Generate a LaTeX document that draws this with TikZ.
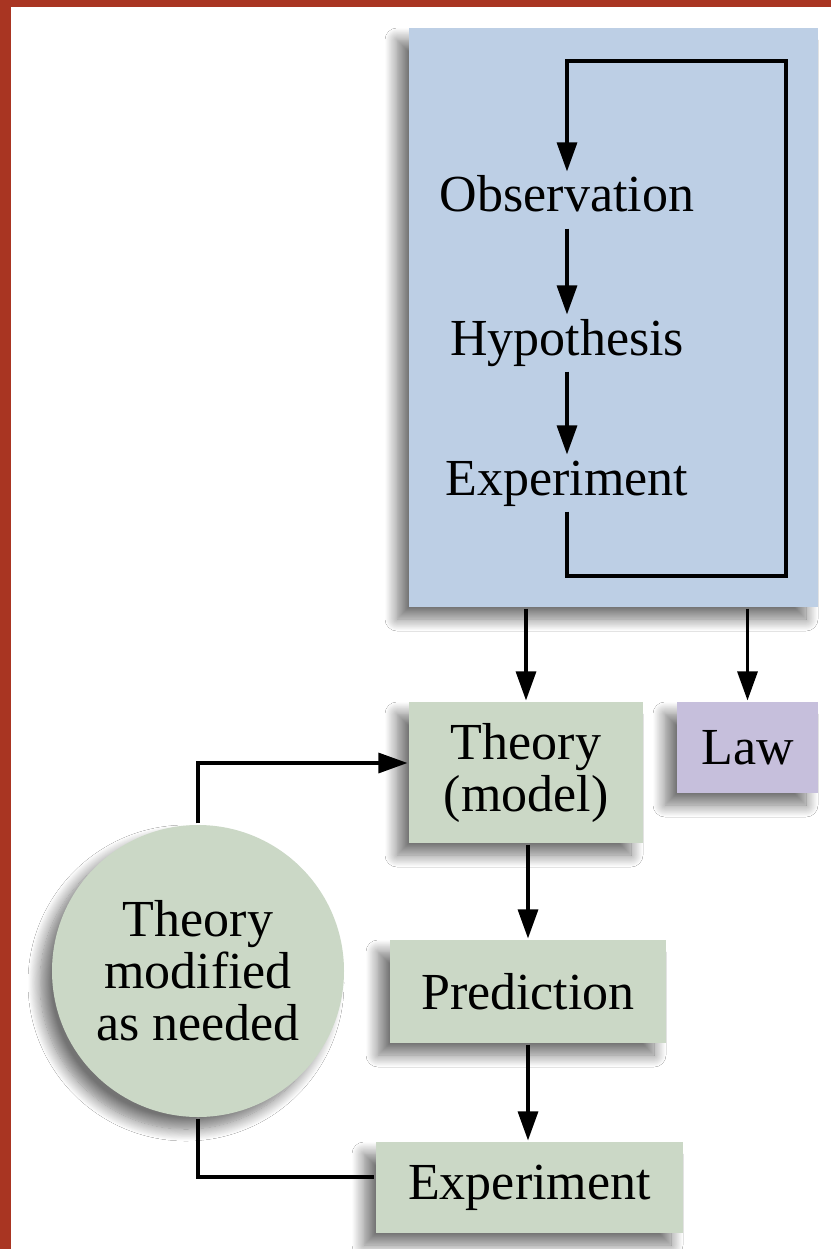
\documentclass[tikz,border=0pt]{standalone}
\usepackage{fontspec}
\setmainfont{Liberation Serif}
\usetikzlibrary{positioning,arrows.meta,shadows.blur}
\definecolor{framered}{HTML}{A93522}
\definecolor{panelblue}{HTML}{BDCFE5}
\definecolor{sagegreen}{HTML}{CBD8C6}
\definecolor{lawlilac}{HTML}{C6BFDC}

\begin{document}
\begin{tikzpicture}[x=1pt, y=-1pt, font=\fontsize{52}{52}\selectfont,
  >={Triangle[length=29pt,width=20pt]}, line width=3.1pt,
  softshadow/.style={blur shadow={shadow xshift=-12pt, shadow yshift=-12pt,
               shadow blur radius=12pt, shadow blur steps=14, shadow opacity=55}},
  gbox/.style={fill=sagegreen, softshadow, align=center, inner sep=0pt},
  step text/.style={anchor=base, inner sep=4pt, text height=35pt, text depth=11pt}]
  \useasboundingbox (0,0) rectangle (831,1249);
  \fill[framered] (0,0) rectangle (831,1249);
  \fill[white] (11,7) rectangle (831,1249);

  \node[fill=panelblue, softshadow, inner sep=0pt,
        minimum width=409pt, minimum height=579pt] (method) at (613.5,317.5) {};
  \node[step text] (obs) at (567,212) {Observation};
  \node[step text] (hyp) at (567,355) {Hypothesis};
  \node[step text] (expa) at (567,495) {Experiment};
  \coordinate (loopbr) at (786,576);
  \coordinate (looptr) at (786,61);

  \node[gbox, minimum width=234pt, minimum height=141pt] (theory) at (526,772.5)
        {Theory\\(model)};
  \node[fill=lawlilac, softshadow, inner sep=0pt,
        minimum width=141pt, minimum height=91pt] (law) at (747.5,747.5) {Law};
  \node[gbox, minimum width=276pt, minimum height=103pt] (predict) at (528,991.5)
        {Prediction};
  \node[gbox, minimum width=307pt, minimum height=91pt] (expb) at (529.5,1187.5)
        {Experiment};
  \node[gbox, circle, minimum size=292pt] (revise) at (198,971)
        {Theory\\modified\\as needed};

  \draw[->] (expa.south) |- (loopbr) -- (looptr) -| (obs.north);
  \draw[->] (obs) -- (hyp);
  \draw[->] (hyp) -- (expa);
  \draw[->] (method.south -| theory.north) -- (theory.north);
  \draw[->] (method.south -| law.north) -- (law.north);
  \draw[->] (theory.south -| predict.north) -- (predict.north);
  \draw[->] (predict.south) -- (predict.south |- expb.north);
  \draw[->] (revise.north) |- ([yshift=9.5pt]theory.west);
  \draw (revise.south) |- ([yshift=10.5pt]expb.west);
\end{tikzpicture}
\end{document}
